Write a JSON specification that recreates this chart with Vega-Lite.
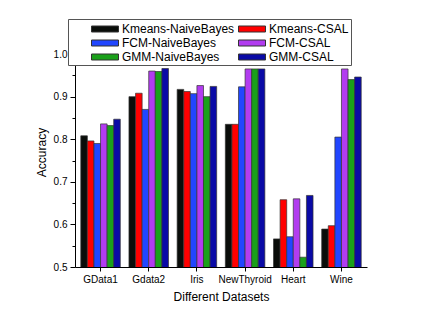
{
  "$schema": "https://vega.github.io/schema/vega-lite/v6.json",
  "width": 292,
  "height": 230,
  "autosize": {"type": "none"},
  "padding": {"left": 75, "top": 37, "right": 60, "bottom": 54},
  "background": "white",
  "config": {
    "font": "Liberation Sans",
    "view": {"stroke": null},
    "axis": {"domainColor": "#000", "tickColor": "#000", "labelColor": "#000", "titleColor": "#000", "grid": false, "titleFontWeight": "normal", "labelFont": "Liberation Sans", "titleFont": "Liberation Sans"}
  },
  "data": {
    "values": [
      {"dataset": "GData1", "method": "Kmeans-NaiveBayes", "accuracy": 0.808},
      {"dataset": "GData1", "method": "Kmeans-CSAL", "accuracy": 0.796},
      {"dataset": "GData1", "method": "FCM-NaiveBayes", "accuracy": 0.790},
      {"dataset": "GData1", "method": "FCM-CSAL", "accuracy": 0.836},
      {"dataset": "GData1", "method": "GMM-NaiveBayes", "accuracy": 0.832},
      {"dataset": "GData1", "method": "GMM-CSAL", "accuracy": 0.847},
      {"dataset": "Gdata2", "method": "Kmeans-NaiveBayes", "accuracy": 0.900},
      {"dataset": "Gdata2", "method": "Kmeans-CSAL", "accuracy": 0.908},
      {"dataset": "Gdata2", "method": "FCM-NaiveBayes", "accuracy": 0.870},
      {"dataset": "Gdata2", "method": "FCM-CSAL", "accuracy": 0.960},
      {"dataset": "Gdata2", "method": "GMM-NaiveBayes", "accuracy": 0.959},
      {"dataset": "Gdata2", "method": "GMM-CSAL", "accuracy": 0.966},
      {"dataset": "Iris", "method": "Kmeans-NaiveBayes", "accuracy": 0.917},
      {"dataset": "Iris", "method": "Kmeans-CSAL", "accuracy": 0.912},
      {"dataset": "Iris", "method": "FCM-NaiveBayes", "accuracy": 0.907},
      {"dataset": "Iris", "method": "FCM-CSAL", "accuracy": 0.926},
      {"dataset": "Iris", "method": "GMM-NaiveBayes", "accuracy": 0.900},
      {"dataset": "Iris", "method": "GMM-CSAL", "accuracy": 0.924},
      {"dataset": "NewThyroid", "method": "Kmeans-NaiveBayes", "accuracy": 0.835},
      {"dataset": "NewThyroid", "method": "Kmeans-CSAL", "accuracy": 0.835},
      {"dataset": "NewThyroid", "method": "FCM-NaiveBayes", "accuracy": 0.923},
      {"dataset": "NewThyroid", "method": "FCM-CSAL", "accuracy": 0.965},
      {"dataset": "NewThyroid", "method": "GMM-NaiveBayes", "accuracy": 0.965},
      {"dataset": "NewThyroid", "method": "GMM-CSAL", "accuracy": 0.965},
      {"dataset": "Heart", "method": "Kmeans-NaiveBayes", "accuracy": 0.566},
      {"dataset": "Heart", "method": "Kmeans-CSAL", "accuracy": 0.658},
      {"dataset": "Heart", "method": "FCM-NaiveBayes", "accuracy": 0.571},
      {"dataset": "Heart", "method": "FCM-CSAL", "accuracy": 0.660},
      {"dataset": "Heart", "method": "GMM-NaiveBayes", "accuracy": 0.523},
      {"dataset": "Heart", "method": "GMM-CSAL", "accuracy": 0.668},
      {"dataset": "Wine", "method": "Kmeans-NaiveBayes", "accuracy": 0.589},
      {"dataset": "Wine", "method": "Kmeans-CSAL", "accuracy": 0.597},
      {"dataset": "Wine", "method": "FCM-NaiveBayes", "accuracy": 0.805},
      {"dataset": "Wine", "method": "FCM-CSAL", "accuracy": 0.965},
      {"dataset": "Wine", "method": "GMM-NaiveBayes", "accuracy": 0.940},
      {"dataset": "Wine", "method": "GMM-CSAL", "accuracy": 0.946}
    ]
  },
  "mark": {"type": "bar", "stroke": "#333", "strokeWidth": 0.7, "clip": true},
  "encoding": {
    "x": {
      "field": "dataset", "type": "nominal", "sort": null,
      "scale": {"paddingInner": 0.18, "paddingOuter": 0.12},
      "axis": {"title": "Different Datasets", "labelAngle": 0, "labelFontSize": 10, "titleFontSize": 12, "tickSize": 4, "labelPadding": 3, "titlePadding": 7, "domainWidth": 1}
    },
    "xOffset": {
      "field": "method", "type": "nominal", "sort": null,
      "scale": {"domain": ["Kmeans-NaiveBayes", "Kmeans-CSAL", "FCM-NaiveBayes", "FCM-CSAL", "GMM-NaiveBayes", "GMM-CSAL"], "paddingInner": 0, "paddingOuter": 0}
    },
    "y": {
      "field": "accuracy", "type": "quantitative",
      "scale": {"domain": [0.5, 1.04], "nice": false, "zero": false},
      "axis": {
        "title": "Accuracy", "titleFontSize": 12, "labelFontSize": 10, "labelPadding": 3, "titlePadding": 5,
        "values": [0.5, 0.55, 0.6, 0.65, 0.7, 0.75, 0.8, 0.85, 0.9, 0.95, 1.0],
        "labelExpr": "round(datum.value*100) % 10 == 0 ? format(datum.value, '.1f') : ''",
        "tickSize": {"condition": {"test": "round(datum.value*100) % 10 == 0", "value": 5}, "value": 3},
        "labelOverlap": false
      }
    },
    "color": {
      "field": "method", "type": "nominal",
      "scale": {
        "domain": ["Kmeans-NaiveBayes", "Kmeans-CSAL", "FCM-NaiveBayes", "FCM-CSAL", "GMM-NaiveBayes", "GMM-CSAL"],
        "range": ["#0a0d0a", "#ff0000", "#2146ff", "#b23cf0", "#1aa01a", "#0a0aa6"]
      },
      "legend": {
        "title": " ", "titleOrient": "left", "titlePadding": 21, "titleFontSize": 12,
        "orient": "none", "legendX": -7, "legendY": -18, "columns": 2, "direction": "horizontal",
        "symbolType": "M-1.8,-0.4H1.8V0.4H-1.8Z", "symbolSize": 225, "symbolStrokeColor": "#333", "symbolStrokeWidth": 1,
        "labelFontSize": 12, "labelFont": "Liberation Sans", "labelColor": "#000", "labelLimit": 200,
        "strokeColor": "#555", "fillColor": "white", "padding": 2,
        "columnPadding": 1, "rowPadding": 0, "symbolOffset": 6, "labelOffset": 9
      }
    }
  }
}
